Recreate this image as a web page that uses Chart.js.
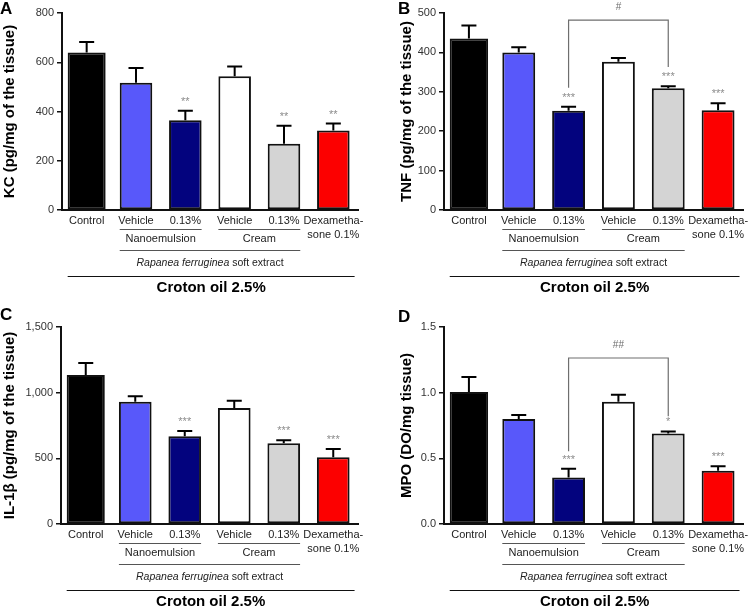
<!DOCTYPE html>
<html>
<head>
<meta charset="utf-8">
<script src="https://cdn.jsdelivr.net/npm/chart.js@4.4.0/dist/chart.umd.min.js"></script>
<style>
  body { margin: 0; background: #fff; }
  .panel { position: absolute; }
</style>
</head>
<body>
<div class="panel" style="left:0;top:0"><canvas id="chartA" width="376" height="303"></canvas></div>
<div class="panel" style="left:376px;top:0"><canvas id="chartB" width="377" height="303"></canvas></div>
<div class="panel" style="left:0;top:303px"><canvas id="chartC" width="376" height="303"></canvas></div>
<div class="panel" style="left:376px;top:303px"><canvas id="chartD" width="377" height="303"></canvas></div>
<script>
// Shared categories and colours
const categories = [['Control'], ['Vehicle'], ['0.13%'], ['Vehicle'], ['0.13%'], ['Dexametha-', 'sone 0.1%']];
const barColors = ['#000000', '#5858fa', '#03037e', '#ffffff', '#d4d4d4', '#fc0000'];
const groupLabels = ['Nanoemulsion', 'Cream'];
const extractItalic = 'Rapanea ferruginea';
const extractPlain = ' soft extract';
const inducerLabel = 'Croton oil 2.5%';

// A - KC
const kcMeans = [640, 517, 364, 543, 269, 323];
const kcErrors = [42, 60, 39, 40, 73, 28];
const kcStars = ['', '', '**', '', '**', '**'];
const kcTicks = ['0', '200', '400', '600', '800'];

// B - TNF
const tnfMeans = [435, 400, 252, 376, 309, 253];
const tnfErrors = [33, 13, 10, 10, 5, 18];
const tnfStars = ['', '', '***', '', '***', '***'];
const tnfTicks = ['0', '100', '200', '300', '400', '500'];
const tnfBracket = [482, 310, 363]; // top, left leg end, right leg end

// C - IL-1beta
const il1bMeans = [1135, 930, 668, 884, 615, 508];
const il1bErrors = [90, 42, 40, 55, 22, 63];
const il1bStars = ['', '', '***', '', '***', '***'];
const il1bTicks = ['0', '500', '1,000', '1,500'];

// D - MPO
const mpoMeans = [1.005, 0.80, 0.355, 0.93, 0.69, 0.405];
const mpoErrors = [0.115, 0.03, 0.065, 0.055, 0.015, 0.035];
const mpoStars = ['', '', '***', '', '*', '***'];
const mpoTicks = ['0.0', '0.5', '1.0', '1.5'];
const mpoBracket = [1.264, 0.553, 0.82];

const FONT = "'Liberation Sans', Arial, sans-serif";

function barEdges(chart, i) {
    const meta = chart.getDatasetMeta(i === 0 ? 0 : 1);
    const bar = meta.data[i];
    return { left: bar.x - bar.width / 2, right: bar.x + bar.width / 2, x: bar.x };
}

const extrasPlugin = {
    id: 'extras',
    afterDatasetsDraw(chart, args, opts) {
        const ctx = chart.ctx;
        const x = chart.scales.x, y = chart.scales.y;
        ctx.save();
        // error bars (upper only)
        ctx.strokeStyle = '#000';
        ctx.lineWidth = 2;
        opts.means.forEach((m, i) => {
            const cx = x.getPixelForValue(i);
            const yBar = y.getPixelForValue(m);
            const yTop = y.getPixelForValue(m + opts.errors[i]);
            ctx.beginPath();
            ctx.moveTo(cx, yBar);
            ctx.lineTo(cx, yTop);
            ctx.moveTo(cx - 7.5, yTop);
            ctx.lineTo(cx + 7.5, yTop);
            ctx.stroke();
            if (opts.stars[i]) {
                ctx.fillStyle = '#8c8c8c';
                ctx.font = '11px ' + FONT;
                ctx.textAlign = 'center';
                ctx.textBaseline = 'middle';
                ctx.fillText(opts.stars[i], cx, yTop - 9);
            }
        });
        // comparison bracket
        if (opts.bracket) {
            const [top, leftEnd, rightEnd] = opts.bracket;
            const x1 = x.getPixelForValue(2), x2 = x.getPixelForValue(4);
            const yT = y.getPixelForValue(top);
            ctx.strokeStyle = '#6e6e6e';
            ctx.lineWidth = 1.2;
            ctx.beginPath();
            ctx.moveTo(x1, y.getPixelForValue(leftEnd));
            ctx.lineTo(x1, yT);
            ctx.lineTo(x2, yT);
            ctx.lineTo(x2, y.getPixelForValue(rightEnd));
            ctx.stroke();
            ctx.fillStyle = '#6e6e6e';
            ctx.font = '10px ' + FONT;
            ctx.textAlign = 'center';
            ctx.textBaseline = 'middle';
            ctx.fillText(opts.bracketLabel, (x1 + x2) / 2, yT - 13);
        }
        ctx.restore();
    },
    afterDraw(chart, args, opts) {
        const ctx = chart.ctx;
        const y0 = chart.chartArea.bottom;
        const b = [0, 1, 2, 3, 4, 5].map(i => barEdges(chart, i));
        ctx.save();
        // panel letter
        ctx.fillStyle = '#000';
        ctx.font = 'bold 17px ' + FONT;
        ctx.textAlign = 'left';
        ctx.textBaseline = 'top';
        ctx.fillText(opts.letter, opts.letterX, opts.letterY);

        ctx.strokeStyle = '#555';
        ctx.lineWidth = 1;
        const hline = (xa, xb, yy) => {
            ctx.beginPath();
            ctx.moveTo(xa, Math.round(yy) + 0.5);
            ctx.lineTo(xb, Math.round(yy) + 0.5);
            ctx.stroke();
        };
        hline(b[1].left, b[2].right, y0 + 19);
        hline(b[3].left, b[4].right, y0 + 19);
        hline(b[1].left, b[4].right, y0 + 40);

        ctx.fillStyle = '#222';
        ctx.font = '11px ' + FONT;
        ctx.textAlign = 'center';
        ctx.textBaseline = 'middle';
        ctx.fillText(groupLabels[0], (b[1].left + b[2].right) / 2, y0 + 29);
        ctx.fillText(groupLabels[1], (b[3].left + b[4].right) / 2, y0 + 29);

        // italic species name + plain text, centred together
        const cx = (b[1].left + b[4].right) / 2;
        ctx.font = 'italic 10.5px ' + FONT;
        const w1 = ctx.measureText(extractItalic).width;
        ctx.font = '10.5px ' + FONT;
        const w2 = ctx.measureText(extractPlain).width;
        const start = cx - (w1 + w2) / 2;
        ctx.textAlign = 'left';
        ctx.font = 'italic 10.5px ' + FONT;
        ctx.fillText(extractItalic, start, y0 + 53);
        ctx.font = '10.5px ' + FONT;
        ctx.fillText(extractPlain, start + w1, y0 + 53);

        ctx.strokeStyle = '#111';
        hline(b[0].left, b[5].right + 5, y0 + 66);
        ctx.fillStyle = '#000';
        ctx.font = 'bold 15px ' + FONT;
        ctx.textAlign = 'center';
        ctx.fillText(inducerLabel, (b[0].left + b[5].right + 5) / 2, y0 + 78);
        ctx.restore();
    }
};

function makePanel(id, opts) {
    const canvas = document.getElementById(id);
    const W = canvas.width, H = canvas.height;
    const area = opts.area;
    return new Chart(canvas, {
        type: 'bar',
        data: {
            labels: categories,
            datasets: [
                {
                    data: opts.means.map((v, i) => i === 0 ? v : null),
                    backgroundColor: barColors,
                    borderColor: '#111',
                    borderWidth: 2,
                    borderSkipped: false,
                    barPercentage: 0.77,
                    categoryPercentage: 1,
                    grouped: false
                },
                {
                    data: opts.means.map((v, i) => i === 0 ? null : v),
                    backgroundColor: barColors,
                    borderColor: '#111',
                    borderWidth: 2,
                    borderSkipped: false,
                    barPercentage: 0.66,
                    categoryPercentage: 1,
                    grouped: false
                }
            ]
        },
        options: {
            responsive: false,
            animation: false,
            events: [],
            layout: {
                padding: { left: opts.padLeft, top: area.top, right: W - area.right, bottom: 0 }
            },
            plugins: {
                legend: { display: false },
                tooltip: { enabled: false },
                extras: {
                    means: opts.means,
                    errors: opts.errors,
                    stars: opts.stars,
                    bracket: opts.bracket,
                    bracketLabel: opts.bracketLabel,
                    letter: opts.letter,
                    letterX: opts.letterX,
                    letterY: opts.letterY
                }
            },
            scales: {
                x: {
                    grid: { display: false, drawTicks: false },
                    border: { display: true, color: '#111', width: 2 },
                    ticks: {
                        color: '#222',
                        padding: 4,
                        maxRotation: 0,
                        autoSkip: false,
                        font: { family: FONT, size: 11, lineHeight: 1.3 }
                    },
                    afterFit: s => { s.height = H - area.bottom; }
                },
                y: {
                    min: 0,
                    max: opts.max,
                    grid: { drawOnChartArea: false, drawTicks: true, tickLength: 5, color: '#111', lineWidth: 1.5 },
                    border: { display: true, color: '#111', width: 2 },
                    ticks: {
                        stepSize: opts.step,
                        padding: 3,
                        color: '#333',
                        font: { family: FONT, size: 11 },
                        callback: (v, i) => opts.ticks[i]
                    },
                    title: {
                        display: true,
                        text: opts.title,
                        color: '#000',
                        padding: { top: 1, bottom: 0 },
                        font: { family: FONT, size: 15, weight: 'bold' }
                    },
                    afterFit: s => { s.width = area.left - opts.padLeft; }
                }
            }
        },
        plugins: [extrasPlugin]
    });
}

makePanel('chartA', {
    letter: 'A', letterX: 0, letterY: 1,
    title: 'KC (pg/mg of the tissue)',
    means: kcMeans, errors: kcErrors, stars: kcStars, ticks: kcTicks,
    max: 800, step: 200, padLeft: 0,
    area: { left: 62, top: 13, right: 358, bottom: 210 }
});

makePanel('chartB', {
    letter: 'B', letterX: 22, letterY: 1,
    title: 'TNF (pg/mg of the tissue)',
    means: tnfMeans, errors: tnfErrors, stars: tnfStars, ticks: tnfTicks,
    max: 500, step: 100, padLeft: 21,
    bracket: tnfBracket, bracketLabel: '#',
    area: { left: 68, top: 13, right: 367, bottom: 210 }
});

makePanel('chartC', {
    letter: 'C', letterX: 0, letterY: 4,
    title: 'IL-1β (pg/mg of the tissue)',
    means: il1bMeans, errors: il1bErrors, stars: il1bStars, ticks: il1bTicks,
    max: 1500, step: 500, padLeft: 0,
    area: { left: 61, top: 24, right: 358, bottom: 221 }
});

makePanel('chartD', {
    letter: 'D', letterX: 22, letterY: 6,
    title: 'MPO (DO/mg tissue)',
    means: mpoMeans, errors: mpoErrors, stars: mpoStars, ticks: mpoTicks,
    max: 1.5, step: 0.5, padLeft: 21,
    bracket: mpoBracket, bracketLabel: '##',
    area: { left: 68, top: 24, right: 367, bottom: 221 }
});
</script>
</body>
</html>
